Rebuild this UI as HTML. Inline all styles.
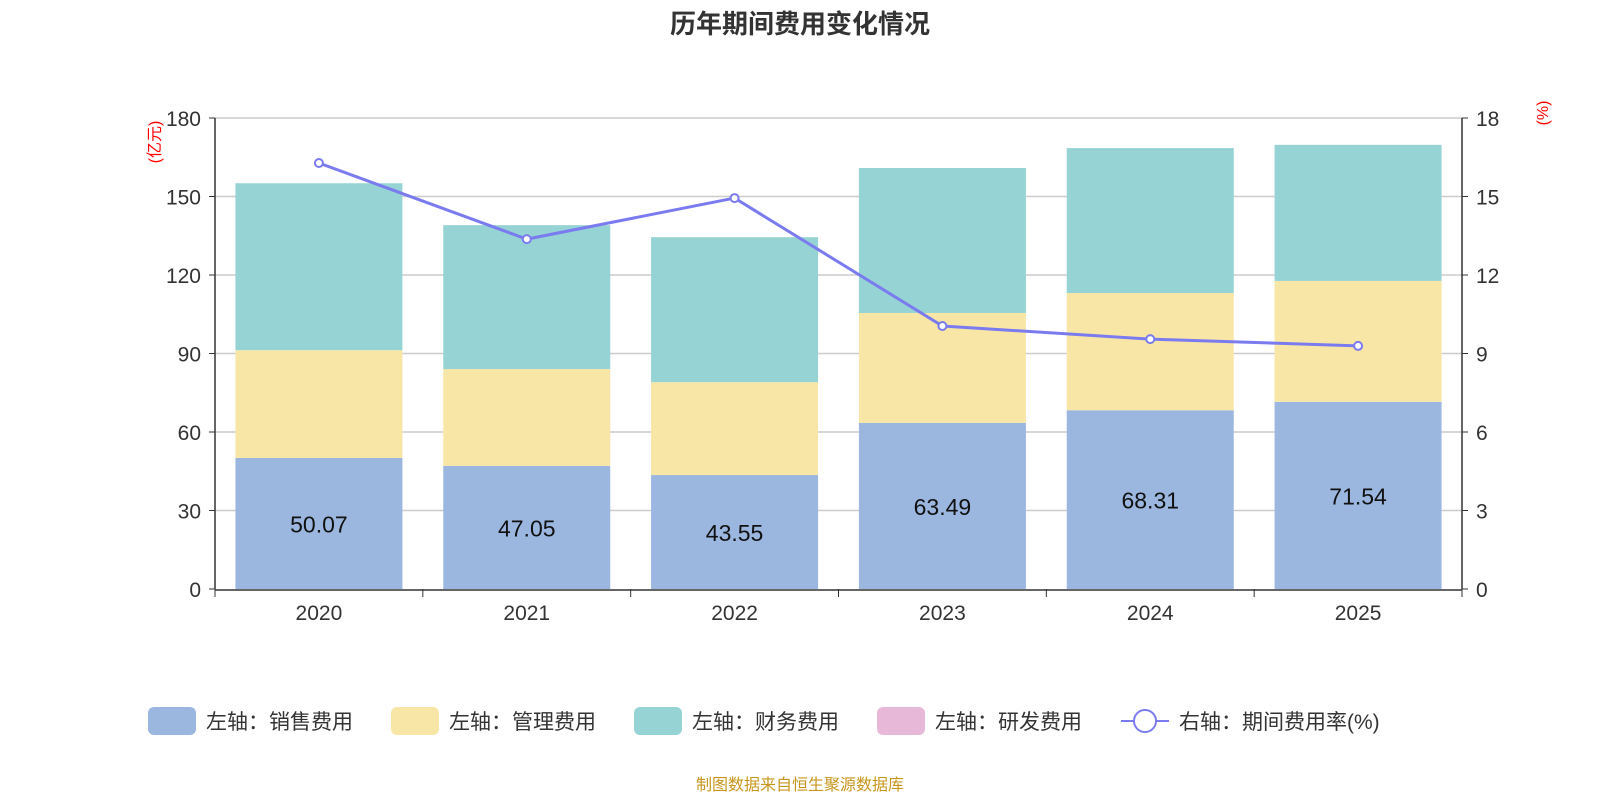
<!DOCTYPE html>
<html><head><meta charset="utf-8"><style>
body{margin:0;background:#fff;width:1600px;height:800px;overflow:hidden}
svg text{font-family:"Liberation Sans","Noto Sans CJK SC",sans-serif}
</style></head><body>
<svg id="chart" width="1600" height="800">
<text x="800" y="33" text-anchor="middle" font-size="26" font-weight="bold" fill="#333">历年期间费用变化情况</text>
<g id="grid"></g><g id="bars"></g><g id="axes"></g><g id="line"></g><g id="legend"></g>
<text x="800" y="790" text-anchor="middle" font-size="16" fill="#c8961e">制图数据来自恒生聚源数据库</text>
</svg>
<script>
const categories=["2020","2021","2022","2023","2024","2025"];
const sales=[50.07,47.05,43.55,63.49,68.31,71.54];
const mgmt=[41.2,37.0,35.5,42.0,44.8,46.2];
const fin=[63.8,55.0,55.4,55.4,55.4,52.0];
const rnd=[0,0,0,0,0,0];
const rate=[16.28,13.37,14.94,10.05,9.55,9.29];
const leftTicks=[0,30,60,90,120,150,180];
const rightTicks=[0,3,6,9,12,15,18];
const NS="http://www.w3.org/2000/svg";
const X0=215,X1=1462,Y0=589,Y1=118;
const yL=v=>Y0-(v/180)*(Y0-Y1);
const yR=v=>Y0-(v/18)*(Y0-Y1);
const bw=(X1-X0)/categories.length;
const xC=i=>X0+bw*(i+0.5);
function mk(tag,attrs,parent,txt){const e=document.createElementNS(NS,tag);for(const k in attrs)e.setAttribute(k,attrs[k]);if(txt!==undefined)e.textContent=txt;document.getElementById(parent).appendChild(e);return e;}
leftTicks.forEach((t,i)=>{
 if(t>0){const g=mk('line',{x1:X0,x2:X1,y1:yL(t),y2:yL(t),stroke:'#ccc','stroke-width':1.5},'grid');
 
 }
 const a=mk('text',{x:X0-14,y:yL(t)+8,'text-anchor':'end','font-size':21,fill:'#333'},'axes',t);
 
 
 mk('line',{x1:X0-6,x2:X0,y1:yL(t),y2:yL(t),stroke:'#333'},'axes');
});
rightTicks.forEach(t=>{
 const a=mk('text',{x:X1+14,y:yR(t)+8,'font-size':21,fill:'#333'},'axes',t);
 
 
 mk('line',{x1:X1,x2:X1+6,y1:yR(t),y2:yR(t),stroke:'#333'},'axes');
});
mk('line',{x1:X0,x2:X0,y1:Y1,y2:Y0,stroke:'#333','stroke-width':1.5},'axes');
mk('line',{x1:X1,x2:X1,y1:Y1,y2:Y0,stroke:'#333','stroke-width':1.5},'axes');
mk('line',{x1:X0,x2:X1,y1:Y0+1,y2:Y0+1,stroke:'#333','stroke-width':1.5},'axes');
for(let i=0;i<=categories.length;i++)mk('line',{x1:X0+bw*i,x2:X0+bw*i,y1:Y0,y2:Y0+8,stroke:'#333'},'axes');
const u1=mk('text',{x:160,y:142,'font-size':16,fill:'red','text-anchor':'middle',transform:'rotate(-90 160 142)'},'axes','(亿元)');

const u2=mk('text',{x:1548,y:113,'font-size':16,fill:'red','text-anchor':'middle',transform:'rotate(-90 1548 113)'},'axes','(%)');

const colors=['#9bb7e0','#f8e6a6','#96d3d4','#e8b8d8'];
categories.forEach((c,i)=>{
 const xl=mk('text',{x:xC(i),y:620,'text-anchor':'middle','font-size':21,fill:'#333'},'axes',c);
 
 
 let base=0;
 [sales,mgmt,fin,rnd].forEach((s,k)=>{
  const v=s[i];if(v<=0)return;
  const r=mk('rect',{x:xC(i)-83.5,width:167,y:yL(base+v),height:yL(base)-yL(base+v),fill:colors[k]},'bars');
  
  
  base+=v;
 });
 const lb=mk('text',{x:xC(i),y:(yL(sales[i])+Y0)/2+9,'text-anchor':'middle','font-size':23,fill:'#111'},'bars',sales[i].toFixed(2));
 
 
});
const pts=rate.map((v,i)=>xC(i)+','+yR(v)).join(' ');
const pl=mk('polyline',{points:pts,fill:'none',stroke:'#7b7bf0','stroke-width':3},'line');


rate.forEach((v,i)=>{
 const p=mk('circle',{cx:xC(i),cy:yR(v),r:4,fill:'#fff',stroke:'#7b7bf0','stroke-width':2},'line');
 
 
});
const leg=[['左轴：销售费用',148],['左轴：管理费用',391],['左轴：财务费用',634],['左轴：研发费用',877]];
leg.forEach((l,k)=>{
 const r=mk('rect',{x:l[1],y:707,width:48,height:28,rx:6,fill:colors[k]},'legend');
 
 
 const t=mk('text',{x:l[1]+58,y:729,'font-size':21,fill:'#333'},'legend',l[0]);
 
 
});
mk('line',{x1:1121,x2:1169,y1:721,y2:721,stroke:'#7b7bf0','stroke-width':2},'legend');
const lc=mk('circle',{cx:1145,cy:721,r:11,fill:'#fff',stroke:'#7b7bf0','stroke-width':2},'legend');


const lt=mk('text',{x:1179,y:729,'font-size':21,fill:'#333'},'legend','右轴：期间费用率(%)');


</script>
</body></html>
